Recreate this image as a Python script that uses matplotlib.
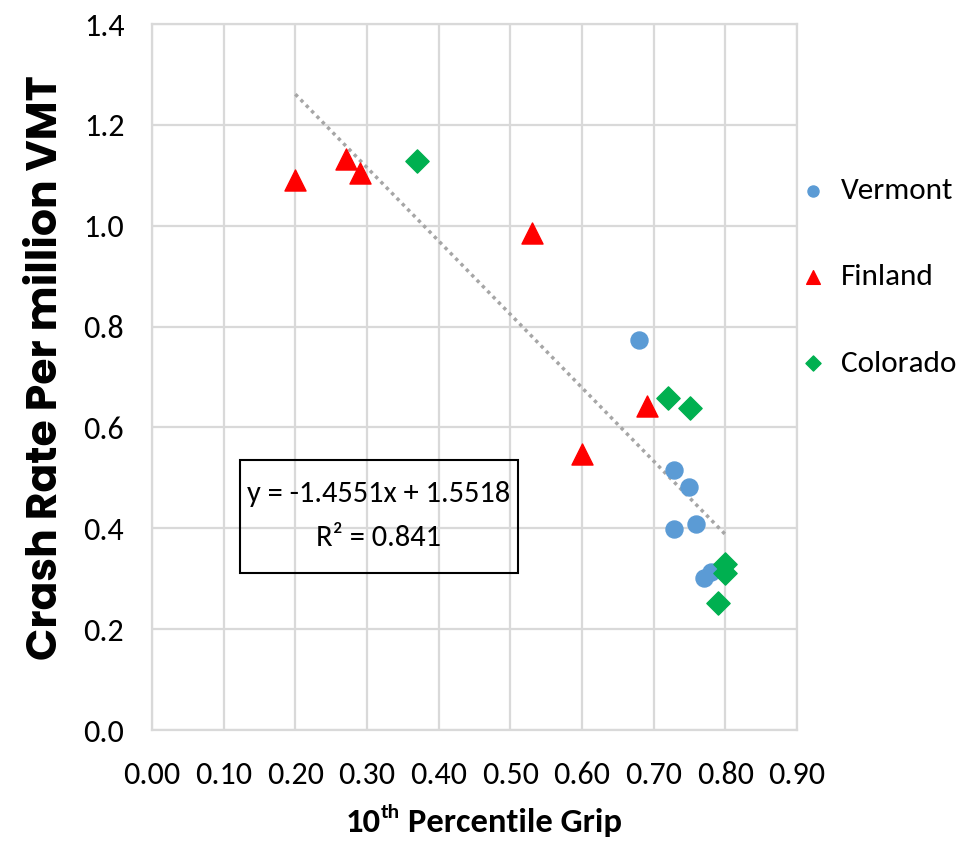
import matplotlib
matplotlib.use("Agg")
import matplotlib.pyplot as plt
from matplotlib.patches import Rectangle
from matplotlib import font_manager
import numpy as np

vermont_x = [0.68, 0.728, 0.749, 0.728, 0.759, 0.77, 0.78]
vermont_y = [0.774, 0.515, 0.481, 0.398, 0.408, 0.301, 0.313]
finland_x = [0.20, 0.27, 0.29, 0.53, 0.60, 0.69]
finland_y = [1.091, 1.133, 1.105, 0.986, 0.547, 0.642]
colorado_x = [0.37, 0.72, 0.75, 0.80, 0.80, 0.79]
colorado_y = [1.129, 0.659, 0.638, 0.33, 0.311, 0.251]
series_names = ['Vermont', 'Finland', 'Colorado']
slope = -1.4551
intercept = 1.5518
r2 = 0.841
x_label_parts = ['10', 'th', ' Percentile Grip']
y_label = 'Crash Rate Per million VMT'

xticks = np.arange(0, 0.91, 0.1)
yticks = np.arange(0, 1.41, 0.2)

fonts = font_manager.fontManager.ttflist
available = {f.name for f in fonts}
bold_available = {f.name for f in fonts if (isinstance(f.weight, int) and f.weight >= 600)
                  or str(f.weight).lower() in ('bold', 'demibold', 'semibold', 'heavy', 'black', 'extra bold')}
def pick(prefs, need_bold=False):
    pool = bold_available if need_bold else available
    for p in prefs:
        if p in pool:
            return p
    return 'DejaVu Sans'

body_font = pick(['Carlito', 'Calibri', 'Liberation Sans Narrow', 'PT Sans Narrow',
                  'Roboto Condensed', 'Arimo', 'Liberation Sans'])
gothic_font = pick(['Century Gothic', 'URW Gothic', 'Poppins', 'Questrial', 'Didact Gothic',
                    'Mulish', 'Montserrat', 'DejaVu Sans'], need_bold=True)

fig = plt.figure(figsize=(9.71, 8.44), dpi=100)
ax = fig.add_axes([152/971, 1-730/844, (797-152)/971, (730-24)/844])
ax.set_xlim(0, 0.9)
ax.set_ylim(0, 1.4)
ax.set_xticks(xticks)
ax.set_yticks(yticks)
ax.set_xticklabels([f"{v:.2f}" for v in xticks])
ax.set_yticklabels([f"{v:.1f}" for v in yticks])
ax.grid(True, color='#D9D9D9', lw=1.6)
ax.set_axisbelow(True)
for s in ax.spines.values():
    s.set_color('#D9D9D9')
    s.set_linewidth(1.6)
ax.tick_params(length=0, labelsize=23)
ax.tick_params(axis='y', pad=20)
ax.tick_params(axis='x', pad=22)
for lab in ax.get_xticklabels() + ax.get_yticklabels():
    lab.set_fontfamily(body_font)

renderer = fig.canvas.get_renderer()
def fit(txt, target_px, axis='w'):
    txt.set_fontsize(20)
    bb = txt.get_window_extent(renderer)
    cur = bb.width if axis == 'w' else bb.height
    txt.set_fontsize(20 * target_px / cur)

# trend line
all_x = vermont_x + finland_x + colorado_x
tx = np.array([min(all_x), max(all_x)])
ax.plot(tx, slope*tx + intercept, ls=(0, (1, 1.2)), color='#A6A6A6', lw=2.5, zorder=2)

ax.scatter(vermont_x, vermont_y, marker='o', s=150, color='#5B9BD5', label=series_names[0], zorder=3)
ax.scatter(finland_x, finland_y, marker='^', s=230, color='#FF0000', label=series_names[1], zorder=3)
ax.scatter(colorado_x, colorado_y, marker='D', s=140, color='#00B050', label=series_names[2], zorder=3)

ax.add_patch(Rectangle((0.1227, 0.311), 0.510-0.1227, 0.535-0.311, fill=False,
                       ec='black', lw=1.5, zorder=4))
eq = ax.text(0.3166, 0.467, f"y = {slope:.4f}x + {intercept:.4f}", ha='center', va='center',
             family=body_font, zorder=5)
fit(eq, 264)
ax.text(0.3166, 0.381, f"R² = {r2:.3f}", ha='center', va='center',
        family=body_font, fontsize=eq.get_fontsize(), zorder=5)

# y label
yl = fig.text(47/971, 1-368/844, y_label, rotation=90, ha='center', va='center',
              family=gothic_font, fontweight='bold')
fit(yl, 585, 'h')

# x label: main text + superscript
xs = 20
parts = [fig.text(0, 0, x_label_parts[0], family=body_font, fontweight='bold', fontsize=xs),
         fig.text(0, 0, x_label_parts[1], family=body_font, fontweight='bold', fontsize=xs*0.62),
         fig.text(0, 0, x_label_parts[2], family=body_font, fontweight='bold', fontsize=xs)]
total = sum(p.get_window_extent(renderer).width for p in parts)
xs = xs * 277 / total
parts[0].set_fontsize(xs); parts[1].set_fontsize(xs*0.62); parts[2].set_fontsize(xs)
widths = [p.get_window_extent(renderer).width for p in parts]
x0 = 484 - sum(widths) / 2
base_y = 1 - 832/844
parts[0].set_position((x0/971, base_y))
parts[1].set_position(((x0 + widths[0])/971, base_y + xs*0.40/72*100/844))
parts[2].set_position(((x0 + widths[0] + widths[1])/971, base_y))

leg = ax.legend(loc='center left', bbox_to_anchor=(0.981, (730-277)/706), frameon=False,
                prop={'family': body_font, 'size': 22.5},
                labelspacing=1.9, handlelength=1.0, handletextpad=0.4,
                markerscale=0.65, borderaxespad=0.0)

fig.savefig('out.png', dpi=100)
